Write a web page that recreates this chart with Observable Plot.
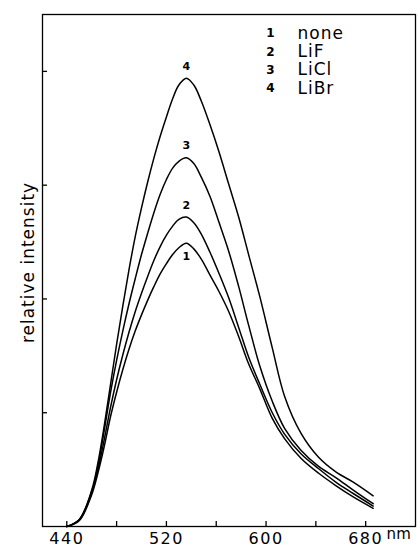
<!DOCTYPE html>
<html>
<head>
<meta charset="utf-8">
<script src="https://cdn.jsdelivr.net/npm/d3@7"></script>
<script src="https://cdn.jsdelivr.net/npm/@observablehq/plot@0.6"></script>
<style>
  body { margin: 0; background: #fff; }
  #chart { width: 418px; height: 547px; }
  #chart svg { font-family: "DejaVu Sans", sans-serif; }
</style>
</head>
<body>
<div id="chart"></div>
<script>
// Wavelength grid (nm)
const wavelength = [440, 450, 460, 465, 470, 475, 480, 485, 490, 495, 500, 505, 510, 515, 520, 525, 530, 536, 542, 548, 555, 562, 570, 578, 586, 595, 605, 615, 628, 642, 656, 670, 686];

// Relative intensity
const none = [0.00, 0.05, 0.28, 0.47, 0.70, 0.96, 1.18, 1.38, 1.56, 1.72, 1.86, 1.99, 2.11, 2.22, 2.31, 2.39, 2.45, 2.49, 2.44, 2.35, 2.21, 2.07, 1.89, 1.67, 1.43, 1.21, 0.95, 0.77, 0.60, 0.47, 0.36, 0.26, 0.16];
const lif  = [0.00, 0.06, 0.30, 0.50, 0.76, 1.04, 1.29, 1.51, 1.71, 1.89, 2.05, 2.20, 2.34, 2.46, 2.56, 2.64, 2.70, 2.72, 2.67, 2.57, 2.41, 2.23, 2.01, 1.75, 1.49, 1.25, 1.00, 0.81, 0.64, 0.51, 0.39, 0.29, 0.18];
const licl = [0.00, 0.06, 0.30, 0.53, 0.84, 1.17, 1.46, 1.72, 1.96, 2.18, 2.39, 2.58, 2.76, 2.92, 3.05, 3.15, 3.21, 3.24, 3.19, 3.07, 2.90, 2.68, 2.42, 2.11, 1.77, 1.41, 1.10, 0.86, 0.67, 0.53, 0.43, 0.32, 0.20];
const libr = [0.00, 0.06, 0.32, 0.56, 0.88, 1.24, 1.60, 1.94, 2.26, 2.55, 2.80, 3.03, 3.24, 3.43, 3.60, 3.76, 3.88, 3.94, 3.88, 3.74, 3.53, 3.30, 3.01, 2.72, 2.39, 2.02, 1.57, 1.14, 0.82, 0.61, 0.48, 0.39, 0.27];

const seriesNames = ["none", "LiF", "LiCl", "LiBr"];
const seriesNumbers = ["1", "2", "3", "4"];
const seriesValues = [none, lif, licl, libr];

const xTicks = [440, 480, 520, 560, 600, 640, 680];
const xTickLabels = [440, 520, 600, 680];
const yTicks = [1, 2, 3, 4];
const xUnit = "nm";
const yTitle = "relative intensity";

const rows = [];
seriesValues.forEach((vals, i) => {
  vals.forEach((v, j) => rows.push({nm: wavelength[j], value: v, series: seriesNames[i]}));
});

const peaks = seriesValues.map((vals, i) => {
  const k = d3.maxIndex(vals);
  return {nm: wavelength[k], value: vals[k], label: seriesNumbers[i]};
});

const legendRows = seriesNames.map((name, i) => ({name, number: seriesNumbers[i], i}));

const legendMarks = legendRows.flatMap(d => [
  Plot.text([d.number], {frameAnchor: "top-left", lineAnchor: "middle", dx: 228, dy: 19 + d.i * 18.2, fontSize: 12, fontWeight: "bold", textAnchor: "middle", fill: "black"}),
  Plot.text([d.name], {frameAnchor: "top-left", lineAnchor: "middle", dx: 255, dy: 19 + d.i * 18.2, fontSize: 17, textAnchor: "start", fill: "black", className: "legend-name"})
]);

const chart = Plot.plot({
  width: 418,
  height: 547,
  marginLeft: 42,
  marginRight: 3,
  marginTop: 14,
  marginBottom: 21,
  x: {domain: [420.5, 720]},
  y: {domain: [0, 4.5]},
  marks: [
    Plot.frame({stroke: "black", strokeWidth: 1.3}),
    Plot.axisX(xTicks, {tickSize: -5, tickFormat: () => "", strokeWidth: 1.3, label: null}),
    Plot.axisX(xTickLabels, {tickSize: 0, tickPadding: 6, fontSize: 16, fill: "black", label: null}),
    Plot.axisY(yTicks, {tickSize: -5, tickFormat: () => "", strokeWidth: 1.3, label: null}),
    Plot.text([xUnit], {x: () => xTickLabels[xTickLabels.length - 1], frameAnchor: "bottom", dx: 33, dy: 12, fontSize: 15, fill: "black"}),
    Plot.text([yTitle], {frameAnchor: "left", textAnchor: "middle", rotate: -90, dx: -14, dy: -8, fontSize: 17, fill: "black", className: "ytitle"}),
    Plot.lineY(rows, {x: "nm", y: "value", z: "series", curve: "catmull-rom", stroke: "black", strokeWidth: 1.5}),
    Plot.text(peaks.filter(d => d.label !== "1"), {x: "nm", y: "value", text: "label", dy: -12, fontSize: 11, fontWeight: "bold", fill: "black"}),
    Plot.text(peaks.filter(d => d.label === "1"), {x: "nm", y: "value", text: "label", dy: 13, fontSize: 11, fontWeight: "bold", fill: "black"}),
    ...legendMarks
  ]
});

document.getElementById("chart").append(chart);
d3.select(chart).selectAll('[aria-label="x-axis tick label"] text').style("letter-spacing", "1.5px");
d3.select(chart).selectAll('.legend-name text').style("letter-spacing", "1px");
d3.select(chart).selectAll('.ytitle text').style("letter-spacing", "1px");
</script>
</body>
</html>
